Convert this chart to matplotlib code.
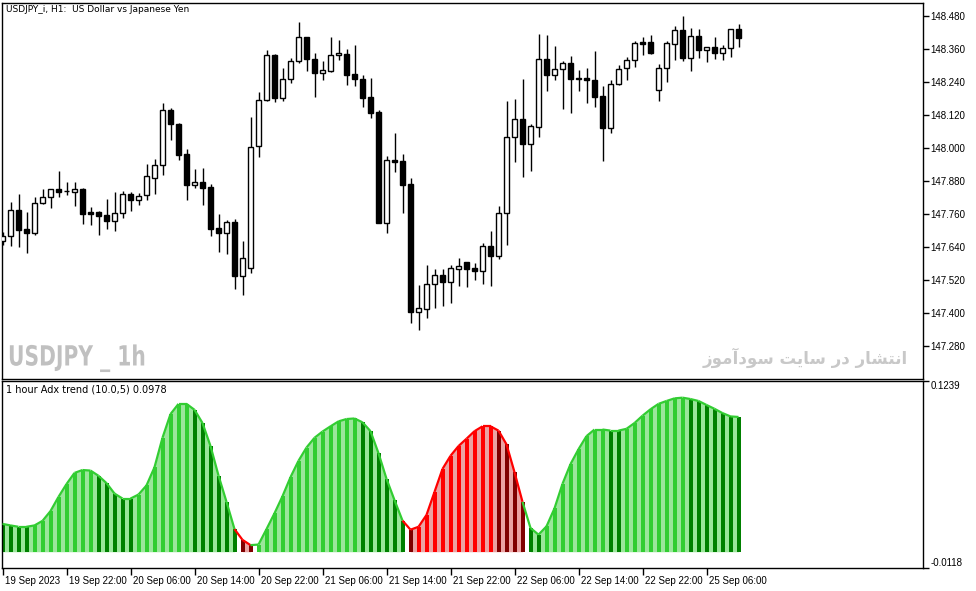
import matplotlib
matplotlib.use('Agg')
import matplotlib.pyplot as plt
from matplotlib import transforms, patheffects

W, H = 976, 591
plt.rcParams['font.family'] = ['DejaVu Sans']

# USDJPY_i H1 candles, 19 Sep 14:00 -> 25 Sep 06:00
opens = [147.662, 147.681, 147.775, 147.705, 147.692, 147.799, 147.821, 147.851, 147.843, 147.841,
         147.851, 147.767, 147.767, 147.755, 147.736, 147.763, 147.832, 147.812, 147.828, 147.890,
         147.937, 148.137, 148.086, 147.977, 147.864, 147.875, 147.857, 147.709, 147.692, 147.730,
         147.536, 147.563, 148.008, 148.175, 148.338, 148.181, 148.250, 148.316, 148.403, 148.323,
         148.273, 148.281, 148.337, 148.342, 148.269, 148.251, 148.185, 148.131, 147.728, 147.955,
         147.952, 147.869, 147.405, 147.413, 147.504, 147.537, 147.514, 147.561, 147.584, 147.564,
         147.554, 147.643, 147.608, 147.763, 148.039, 148.105, 148.016, 148.075, 148.323, 148.264,
         148.286, 148.309, 148.254, 148.255, 148.247, 148.189, 148.074, 148.232, 148.292, 148.319,
         148.385, 148.385, 148.210, 148.290, 148.378, 148.428, 148.328, 148.406, 148.357, 148.366,
         148.347, 148.363, 148.432]
highs = [147.695, 147.804, 147.833, 147.767, 147.823, 147.851, 147.851, 147.916, 147.876, 147.876,
         147.853, 147.785, 147.771, 147.815, 147.840, 147.844, 147.839, 147.836, 147.942, 147.959,
         148.164, 148.144, 148.090, 147.995, 147.924, 147.927, 147.868, 147.760, 147.737, 147.741,
         147.663, 148.112, 148.203, 148.356, 148.340, 148.290, 148.326, 148.458, 148.405, 148.344,
         148.316, 148.405, 148.393, 148.360, 148.375, 148.265, 148.255, 148.138, 147.971, 148.055,
         147.978, 147.890, 147.502, 147.575, 147.560, 147.560, 147.573, 147.601, 147.586, 147.582,
         147.655, 147.698, 147.789, 148.172, 148.178, 148.251, 148.087, 148.416, 148.412, 148.371,
         148.316, 148.335, 148.284, 148.291, 148.353, 148.225, 148.247, 148.302, 148.330, 148.388,
         148.403, 148.411, 148.305, 148.388, 148.444, 148.480, 148.436, 148.433, 148.367, 148.404,
         148.375, 148.433, 148.451]
lows = [147.647, 147.645, 147.641, 147.619, 147.684, 147.797, 147.783, 147.823, 147.828, 147.789,
        147.725, 147.720, 147.685, 147.707, 147.699, 147.747, 147.772, 147.794, 147.811, 147.834,
        147.902, 148.029, 147.956, 147.812, 147.856, 147.794, 147.681, 147.623, 147.616, 147.488,
        147.467, 147.545, 147.968, 148.172, 148.168, 148.172, 148.235, 148.308, 148.279, 148.187,
        148.246, 148.277, 148.320, 148.230, 148.225, 148.150, 148.108, 147.726, 147.692, 147.914,
        147.765, 147.363, 147.338, 147.383, 147.417, 147.427, 147.437, 147.498, 147.496, 147.520,
        147.505, 147.499, 147.595, 147.647, 147.949, 147.896, 147.916, 148.041, 148.207, 148.248,
        148.142, 148.128, 148.207, 148.165, 148.150, 147.953, 148.056, 148.228, 148.247, 148.296,
        148.338, 148.342, 148.172, 148.241, 148.320, 148.317, 148.281, 148.328, 148.314, 148.324,
        148.319, 148.332, 148.368]
closes = [147.680, 147.775, 147.702, 147.692, 147.799, 147.821, 147.851, 147.841, 147.845, 147.851,
          147.761, 147.761, 147.754, 147.736, 147.763, 147.832, 147.812, 147.827, 147.897, 147.937,
          148.137, 148.086, 147.973, 147.864, 147.875, 147.856, 147.707, 147.692, 147.730, 147.536,
          147.599, 148.005, 148.175, 148.338, 148.183, 148.250, 148.316, 148.403, 148.323, 148.272,
          148.283, 148.338, 148.345, 148.267, 148.252, 148.183, 148.128, 147.728, 147.955, 147.949,
          147.867, 147.405, 147.417, 147.504, 147.537, 147.514, 147.564, 147.571, 147.561, 147.554,
          147.643, 147.608, 147.763, 148.040, 148.105, 148.016, 148.079, 148.323, 148.264, 148.286,
          148.309, 148.252, 148.252, 148.248, 148.187, 148.074, 148.232, 148.286, 148.319, 148.381,
          148.379, 148.347, 148.290, 148.381, 148.428, 148.328, 148.406, 148.357, 148.366, 148.347,
          148.363, 148.432, 148.401]

# "1 hour Adx trend" indicator values
adx = [0.0202, 0.0191, 0.0181, 0.0181, 0.0191, 0.0224, 0.0295, 0.0398, 0.0491, 0.0572,
       0.0593, 0.0589, 0.0551, 0.0498, 0.0422, 0.0386, 0.0386, 0.0415, 0.0481, 0.0613,
       0.0827, 0.0999, 0.1073, 0.1073, 0.1030, 0.0934, 0.0767, 0.0553, 0.0362, 0.0164,
       0.0086, 0.0048, 0.0052, 0.0164, 0.0279, 0.0403, 0.0541, 0.0660, 0.0756, 0.0827,
       0.0872, 0.0910, 0.0946, 0.0963, 0.0967, 0.0939, 0.0875, 0.0715, 0.0529, 0.0374,
       0.0226, 0.0160, 0.0181, 0.0267, 0.0434, 0.0601, 0.0696, 0.0767, 0.0820, 0.0875,
       0.0910, 0.0910, 0.0879, 0.0779, 0.0577, 0.0362, 0.0172, 0.0124, 0.0184, 0.0315,
       0.0493, 0.0636, 0.0744, 0.0839, 0.0887, 0.0887, 0.0879, 0.0879, 0.0892, 0.0934,
       0.0987, 0.1034, 0.1073, 0.1094, 0.1113, 0.1118, 0.1108, 0.1094, 0.1065, 0.1037,
       0.1006, 0.0982, 0.0978]
# bar colour codes: g up green, G down green, r up red, R down red
adxState = ('GGGG' + 'gggggggg' + 'GGGGG' + 'ggggggg' + 'GGGGGG' + 'RR' + 'ggggggggggggg'
            + 'GGGGGG' + 'R' + 'rrrrrrrrrr' + 'RRRR' + 'GG' + 'gggggggg' + 'GG' + 'gggggggg'
            + 'GGGGGGG')

priceTicks = [148.480, 148.360, 148.240, 148.120, 148.000, 147.880, 147.760, 147.640, 147.520, 147.400, 147.280]
priceRange = (147.160, 148.527)
adxRange = (-0.0118, 0.1239)
timeTickPos = [0, 8, 16, 24, 32, 40, 48, 56, 64, 72, 80, 88]
timeTickLabels = ['19 Sep 2023', '19 Sep 22:00', '20 Sep 06:00', '20 Sep 14:00', '20 Sep 22:00',
                  '21 Sep 06:00', '21 Sep 14:00', '21 Sep 22:00', '22 Sep 06:00', '22 Sep 14:00',
                  '22 Sep 22:00', '25 Sep 06:00']
titleText = 'USDJPY_i, H1:  US Dollar vs Japanese Yen'
indText = '1 hour Adx trend (10.0,5) 0.0978'
markText = 'USDJPY _ 1h'
siteText = 'انتشار در سایت سودآموز'

barCol = {'g': '#32cd32', 'G': '#008000', 'r': '#ff0000', 'R': '#800000'}
lineCol = {'g': '#32cd32', 'r': '#ff0000'}
fillCol = {'g': '#9be69b', 'r': '#eba3a3'}
tickFont = ['Liberation Sans', 'DejaVu Sans']

# arabic letters -> (isolated, final, initial, medial) presentation forms
FORMS = {
    'ا': ('\ufe8d', '\ufe8e', None, None),
    'آ': ('\ufe81', '\ufe82', None, None),
    'د': ('\ufea9', '\ufeaa', None, None),
    'ر': ('\ufead', '\ufeae', None, None),
    'ز': ('\ufeaf', '\ufeb0', None, None),
    'و': ('\ufeed', '\ufeee', None, None),
    'ت': ('\ufe95', '\ufe96', '\ufe97', '\ufe98'),
    'ش': ('\ufeb5', '\ufeb6', '\ufeb7', '\ufeb8'),
    'س': ('\ufeb1', '\ufeb2', '\ufeb3', '\ufeb4'),
    'ن': ('\ufee5', '\ufee6', '\ufee7', '\ufee8'),
    'م': ('\ufee1', '\ufee2', '\ufee3', '\ufee4'),
    'ی': ('\ufbfc', '\ufbfd', '\ufef3', '\ufef4'),
}


def shape(text):
    # matplotlib has no arabic shaping, so do joining + rtl by hand
    out = []
    for k, ch in enumerate(text):
        if ch not in FORMS:
            out.append(ch)
            continue
        prev = text[k - 1] if k > 0 else ' '
        nxt = text[k + 1] if k + 1 < len(text) else ' '
        joinPrev = prev in FORMS and FORMS[prev][2] is not None
        joinNext = FORMS[ch][2] is not None and nxt in FORMS
        iso, fin, ini, med = FORMS[ch]
        if joinPrev and joinNext:
            out.append(med)
        elif joinPrev:
            out.append(fin)
        elif joinNext:
            out.append(ini)
        else:
            out.append(iso)
    return ''.join(reversed(out))


class Squeeze(patheffects.AbstractPathEffect):
    # narrow the glyphs horizontally around x0 (display px), like a condensed font
    def __init__(self, x0, sx):
        super().__init__()
        self.x0 = x0
        self.sx = sx

    def draw_path(self, renderer, gc, tpath, affine, rgbFace=None):
        sq = transforms.Affine2D().translate(-self.x0, 0).scale(self.sx, 1).translate(self.x0, 0)
        renderer.draw_path(gc, tpath, affine + sq, rgbFace)


n = len(closes)
xs = list(range(n))
xlim = (-0.0625, 115.06)

fig = plt.figure(figsize=(W / 100, H / 100), dpi=100)
ax = fig.add_axes([2 / W, 1 - 379 / H, 921 / W, 376 / H])
ax2 = fig.add_axes([2 / W, 1 - 568 / H, 921 / W, 187 / H])

# candles
ax.vlines(xs, lows, highs, color='black', lw=1, zorder=2)
bodyLow = [min(o, c) for o, c in zip(opens, closes)]
bodyH = [max(abs(c - o), 0.0008) for o, c in zip(opens, closes)]
bodyCol = ['white' if c >= o else 'black' for o, c in zip(opens, closes)]
ax.bar(xs, bodyH, bottom=bodyLow, width=0.62, color=bodyCol, edgecolor='black', lw=1, zorder=3)

ax.set_xlim(*xlim)
ax.set_ylim(*priceRange)
ax.set_xticks([])
ax.yaxis.tick_right()
ax.set_yticks(priceTicks)
ax.set_yticklabels(['%.3f' % p for p in priceTicks], family=tickFont)
ax.tick_params(axis='y', direction='out', length=4, width=1, labelsize=7, pad=1.5)
for sp in ax.spines.values():
    sp.set_linewidth(1)

# indicator: pale fill per colour section, stripes, then the line
hue = ['r' if s in 'rR' else 'g' for s in adxState]
start = 0
for k in range(1, n + 1):
    if k == n or hue[k] != hue[start]:
        ax2.fill_between(xs[start:k], 0, adx[start:k], color=fillCol[hue[start]], lw=0, zorder=1)
        start = k
ax2.bar(xs, adx, width=0.5, color=[barCol[s] for s in adxState], lw=0, zorder=2)
for k in range(n - 1):
    ax2.plot(xs[k:k + 2], adx[k:k + 2], color=lineCol[hue[k + 1]], lw=1.6,
             solid_capstyle='butt', zorder=3)

ax2.set_xlim(*xlim)
ax2.set_ylim(*adxRange)
ax2.yaxis.tick_right()
ax2.set_yticks([adxRange[1], adxRange[0]])
ax2.set_yticklabels(['%.4f' % adxRange[1], '%.4f' % adxRange[0]], family=tickFont)
ax2.get_yticklabels()[0].set_va('top')
ax2.get_yticklabels()[1].set_va('bottom')
ax2.tick_params(axis='y', direction='out', length=4, width=1, labelsize=7, pad=1.5)
ax2.set_xticks(timeTickPos)
ax2.set_xticklabels(timeTickLabels, ha='left', family=tickFont)
ax2.tick_params(axis='x', direction='out', length=5, width=1, labelsize=7, pad=1)
shift = transforms.ScaledTranslation(2 / 100, 0, fig.dpi_scale_trans)
for lab in ax2.get_xticklabels():
    lab.set_transform(lab.get_transform() + shift)
for sp in ax2.spines.values():
    sp.set_linewidth(1)

fig.text(6 / W, 1 - 9 / H, titleText, fontsize=6.5, va='center')
fig.text(6 / W, 1 - 389 / H, indText, fontsize=7, va='center')
fig.text(8 / W, 1 - 358 / H, markText, fontsize=20, fontweight='bold', color='#c0c0c0',
         va='center', path_effects=[Squeeze(8, 0.73)])
fig.text(908 / W, 1 - 358 / H, shape(siteText), fontsize=12, fontweight='bold', color='#c8c8c8',
         ha='right', va='center')

fig.savefig('out.png', dpi=100)
